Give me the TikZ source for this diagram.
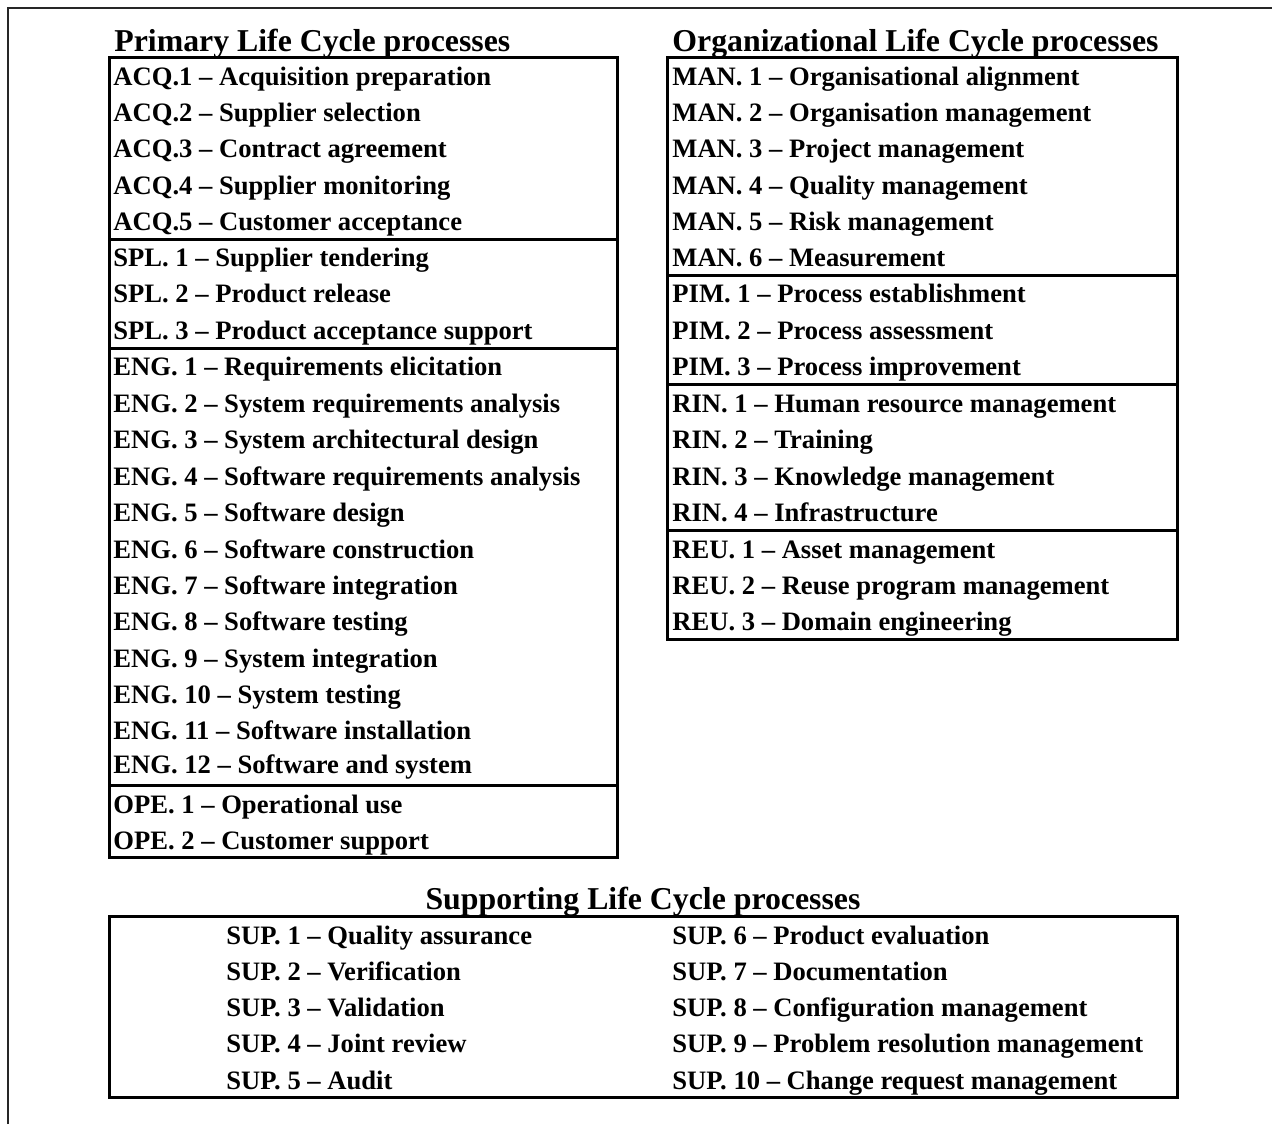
\documentclass[tikz,border=0pt]{standalone}
\usepackage{fontspec}
\setmainfont{Liberation Serif}
\usepackage{tikz}

\begin{document}
\begin{tikzpicture}[%
      x=0.5pt, y=-0.5pt,
      item/.style={anchor=base west, inner sep=0pt, font=\fontsize{13.3}{16}\selectfont\bfseries},
      head/.style={anchor=base west, inner sep=0pt, font=\fontsize{15.9}{19}\selectfont\bfseries},
      box/.style={line width=1.5pt},
      ]
      \useasboundingbox (0,0) rectangle (1272,1124);
      \draw [color=black!85, line width=1pt] (8,1124) -- (8,8) -- (1272,8);

      % primary
      \node [head] (tprim) at (114,51) {Primary Life Cycle processes};
      \draw [box] (109,57) rectangle (617,857);
      \draw [box] (109,239) -- (617,239);
      \draw [box] (109,348) -- (617,348);
      \draw [box] (109,785) -- (617,785);

      \node [item] (acq1) at (113,85) {ACQ.1 – Acquisition preparation};
      \node [item] (acq2) at (113,121) {ACQ.2 – Supplier selection};
      \node [item] (acq3) at (113,157) {ACQ.3 – Contract agreement};
      \node [item] (acq4) at (113,194) {ACQ.4 – Supplier monitoring};
      \node [item] (acq5) at (113,230) {ACQ.5 – Customer acceptance};
      \node [item] (spl1) at (113,266) {SPL. 1 – Supplier tendering};
      \node [item] (spl2) at (113,302) {SPL. 2 – Product release};
      \node [item] (spl3) at (113,339) {SPL. 3 – Product acceptance support};
      \node [item] (eng1) at (113,375) {ENG. 1 – Requirements elicitation};
      \node [item] (eng2) at (113,412) {ENG. 2 – System requirements analysis};
      \node [item] (eng3) at (113,448) {ENG. 3 – System architectural design};
      \node [item] (eng4) at (113,485) {ENG. 4 – Software requirements analysis};
      \node [item] (eng5) at (113,521) {ENG. 5 – Software design};
      \node [item] (eng6) at (113,558) {ENG. 6 – Software construction};
      \node [item] (eng7) at (113,594) {ENG. 7 – Software integration};
      \node [item] (eng8) at (113,630) {ENG. 8 – Software testing};
      \node [item] (eng9) at (113,667) {ENG. 9 – System integration};
      \node [item] (eng10) at (113,703) {ENG. 10 – System testing};
      \node [item] (eng11) at (113,739) {ENG. 11 – Software installation};
      \node [item] (eng12) at (113,773) {ENG. 12 – Software and system};
      \node [item] (ope1) at (113,813) {OPE. 1 – Operational use};
      \node [item] (ope2) at (113,849) {OPE. 2 – Customer support};

      % organizational
      \node [head] (torg) at (672,51) {Organizational Life Cycle processes};
      \draw [box] (667,57) rectangle (1177,639);
      \draw [box] (667,275) -- (1177,275);
      \draw [box] (667,384) -- (1177,384);
      \draw [box] (667,530) -- (1177,530);

      \node [item] (man1) at (672,85) {MAN. 1 – Organisational alignment};
      \node [item] (man2) at (672,121) {MAN. 2 – Organisation management};
      \node [item] (man3) at (672,157) {MAN. 3 – Project management};
      \node [item] (man4) at (672,194) {MAN. 4 – Quality management};
      \node [item] (man5) at (672,230) {MAN. 5 – Risk management};
      \node [item] (man6) at (672,266) {MAN. 6 – Measurement};
      \node [item] (pim1) at (672,302) {PIM. 1 – Process establishment};
      \node [item] (pim2) at (672,339) {PIM. 2 – Process assessment};
      \node [item] (pim3) at (672,375) {PIM. 3 – Process improvement};
      \node [item] (rin1) at (672,412) {RIN. 1 – Human resource management};
      \node [item] (rin2) at (672,448) {RIN. 2 – Training};
      \node [item] (rin3) at (672,485) {RIN. 3 – Knowledge management};
      \node [item] (rin4) at (672,521) {RIN. 4 – Infrastructure};
      \node [item] (reu1) at (672,558) {REU. 1 – Asset management};
      \node [item] (reu2) at (672,594) {REU. 2 – Reuse program management};
      \node [item] (reu3) at (672,630) {REU. 3 – Domain engineering};

      % supporting
      \node [head, anchor=base] (tsup) at (643,909) {Supporting Life Cycle processes};
      \draw [box] (109,916) rectangle (1177,1097);

      \node [item] (sup1) at (226,944) {SUP. 1 – Quality assurance};
      \node [item] (sup2) at (226,980) {SUP. 2 – Verification};
      \node [item] (sup3) at (226,1016) {SUP. 3 – Validation};
      \node [item] (sup4) at (226,1052) {SUP. 4 – Joint review};
      \node [item] (sup5) at (226,1089) {SUP. 5 – Audit};
      \node [item] (sup6) at (672,944) {SUP. 6 – Product evaluation};
      \node [item] (sup7) at (672,980) {SUP. 7 – Documentation};
      \node [item] (sup8) at (672,1016) {SUP. 8 – Configuration management};
      \node [item] (sup9) at (672,1052) {SUP. 9 – Problem resolution management};
      \node [item] (sup10) at (672,1089) {SUP. 10 – Change request management};
      \end{tikzpicture}
\end{document}
